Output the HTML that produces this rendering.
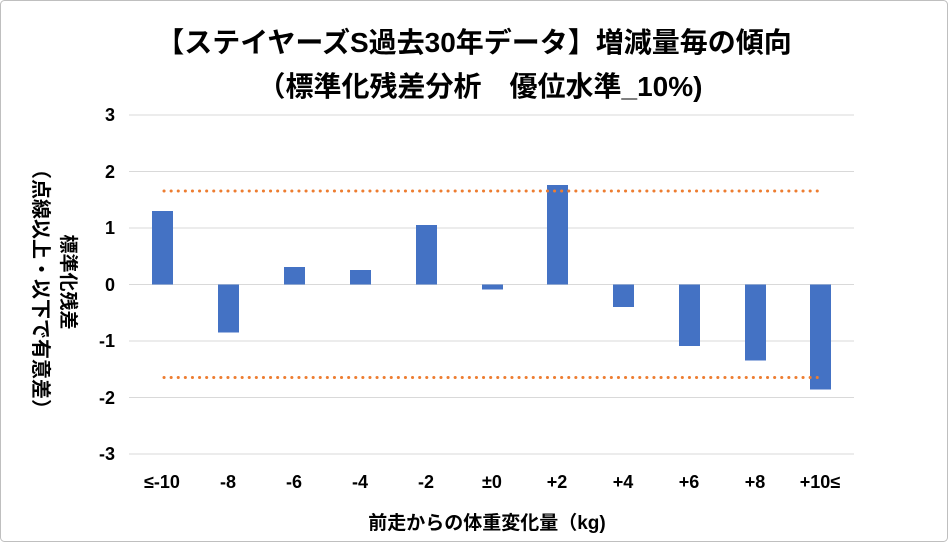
<!DOCTYPE html>
<html><head><meta charset="utf-8"><style>
body{margin:0;background:#fff;}
svg text{font-family:"Liberation Sans","Noto Sans CJK JP",sans-serif;font-weight:bold;fill:#000;}
</style></head><body>
<svg width="948" height="542" xmlns="http://www.w3.org/2000/svg">
<rect x="0.5" y="0.5" width="947" height="541" rx="4" fill="#fff" stroke="#bfbfbf"/>
<text x="474" y="52" font-size="28" text-anchor="middle">【ステイヤーズS過去30年データ】増減量毎の傾向</text>
<text x="480" y="96" font-size="28" text-anchor="middle">（標準化残差分析　優位水準_10%)</text>
<g stroke="#d9d9d9" stroke-width="1">
<line x1="129" x2="854" y1="115" y2="115"/><line x1="129" x2="854" y1="171.5" y2="171.5"/>
<line x1="129" x2="854" y1="228" y2="228"/><line x1="129" x2="854" y1="284.5" y2="284.5"/>
<line x1="129" x2="854" y1="341" y2="341"/><line x1="129" x2="854" y1="397.5" y2="397.5"/>
<line x1="129" x2="854" y1="454" y2="454"/>
</g>
<g font-size="18" text-anchor="end">
<text x="115" y="121">3</text><text x="115" y="178">2</text><text x="115" y="234">1</text>
<text x="115" y="291">0</text><text x="115" y="347">-1</text><text x="115" y="404">-2</text><text x="115" y="460">-3</text>
</g>
<g fill="#4472c4">
<rect x="152" y="211" width="21" height="73.5"/>
<rect x="218" y="284.5" width="21" height="48"/>
<rect x="284" y="267" width="21" height="17.5"/>
<rect x="350" y="270" width="21" height="14.5"/>
<rect x="416" y="225" width="21" height="59.5"/>
<rect x="482" y="284.5" width="21" height="5"/>
<rect x="547" y="185" width="21" height="99.5"/>
<rect x="613" y="284.5" width="21" height="22.5"/>
<rect x="679" y="284.5" width="21" height="61.5"/>
<rect x="745" y="284.5" width="21" height="76"/>
<rect x="810" y="284.5" width="21" height="105"/>
</g>
<g stroke="#ed7d31" stroke-width="3" stroke-dasharray="0.1 7" stroke-linecap="round">
<line x1="164" x2="818" y1="191" y2="191"/>
<line x1="164" x2="818" y1="377.5" y2="377.5"/>
</g>
<g font-size="18" text-anchor="middle">
<text x="162" y="488">≤-10</text><text x="228" y="488">-8</text><text x="294" y="488">-6</text>
<text x="360" y="488">-4</text><text x="426" y="488">-2</text><text x="492" y="488">±0</text>
<text x="557" y="488">+2</text><text x="623" y="488">+4</text><text x="689" y="488">+6</text>
<text x="755" y="488">+8</text><text x="820" y="488">+10≤</text>
</g>
<text x="487" y="529" font-size="19" text-anchor="middle">前走からの体重変化量（kg)</text>
<text transform="translate(62,282) rotate(90)" font-size="19" text-anchor="middle">標準化残差</text>
<text transform="translate(34,289) rotate(90)" font-size="20" text-anchor="middle">（点線以上・以下で有意差）</text>
</svg>
</body></html>
